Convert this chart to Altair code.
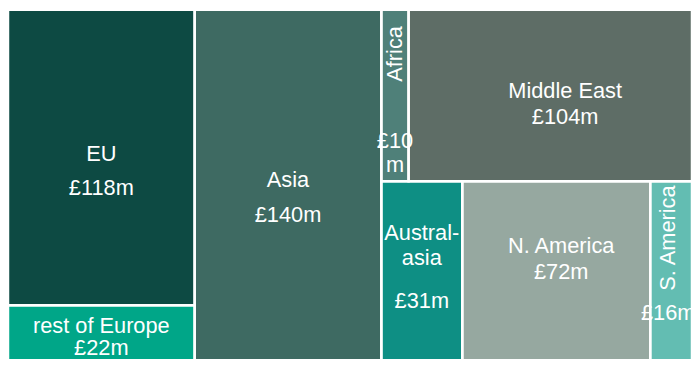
import altair as alt
import pandas as pd

# ---- data ----
regions = ["EU", "rest of Europe", "Asia", "Africa", "Middle East",
           "Australasia", "N. America", "S. America"]
values = [118, 22, 140, 10, 104, 31, 72, 16]
columns = [0, 0, 1, 2, 2, 2, 2, 2]
rows = [0, 1, 0, 0, 0, 1, 1, 1]
name_lines = [["EU"], ["rest of Europe"], ["Asia"], ["Africa"], ["Middle East"],
              ["Austral-", "asia"], ["N. America"], ["S. America"]]
value_lines = [["£118m"], ["£22m"], ["£140m"], ["£10", "m"], ["£104m"],
               ["£31m"], ["£72m"], ["£16m"]]

# ---- styling ----
colors = ["#0D4A43", "#00A688", "#3E6A62", "#4F8079", "#5E6D66",
          "#0E8F84", "#96A8A0", "#63BDB2"]
W, H = 691, 354
FONT = "Liberation Sans"
FS = 22
# per-region label placement (pixel offsets from cell centre): dx, name dys, value dys, name angle
label_style = {
    "EU": (0, [-3], [31], 0),
    "rest of Europe": (0, [-7], [16], 0),
    "Asia": (0, [-5], [30], 0),
    "Africa": (0, [-42], [46, 70], 270),
    "Middle East": (15, [-4], [22], 0),
    "Australasia": (0, [-38, -13], [31], 0),
    "N. America": (5, [-25], [1], 0),
    "S. America": (-3, [-33], [43], 270),
}

# ---- slice-and-dice treemap layout ----
df = pd.DataFrame({"region": regions, "value": values, "col": columns, "row": rows,
                   "color": colors})
total = df["value"].sum()
cells = []
x_col = 0.0
for c, sub in df.groupby("col", sort=True):
    col_sum = sub["value"].sum()
    y_row = 0.0
    for r, rsub in sub.groupby("row", sort=True):
        row_sum = rsub["value"].sum()
        h = row_sum / col_sum
        x_cell = x_col
        for _, rec in rsub.iterrows():
            w = col_sum * rec["value"] / row_sum
            cells.append({"region": rec["region"], "value": rec["value"],
                          "color": rec["color"],
                          "x0": x_cell, "x1": x_cell + w, "y0": y_row, "y1": y_row + h})
            x_cell += w
        y_row += h
    x_col += col_sum
cells = pd.DataFrame(cells)

labels = []
for _, cel in cells.iterrows():
    i = regions.index(cel["region"])
    dx, ndys, vdys, ang = label_style[cel["region"]]
    cx = (cel["x0"] + cel["x1"]) / 2 + dx * total / W
    cy = (cel["y0"] + cel["y1"]) / 2
    for line, dy in zip(name_lines[i], ndys):
        labels.append({"text": line, "x": cx, "y": cy + dy / H, "angle": ang})
    for line, dy in zip(value_lines[i], vdys):
        labels.append({"text": line, "x": cx, "y": cy + dy / H, "angle": 0})
labels = pd.DataFrame(labels)

xs = alt.Scale(domain=[0, float(total)], nice=False, zero=False)
ys = alt.Scale(domain=[0, 1], reverse=True, nice=False, zero=False)

fill = alt.Chart(cells).mark_rect(strokeWidth=0).encode(
    x=alt.X("x0:Q", scale=xs, axis=None),
    x2="x1",
    y=alt.Y("y0:Q", scale=ys, axis=None),
    y2="y1",
    color=alt.Color("color:N", scale=None),
    tooltip=["region", "value"],
)

text = alt.Chart(labels).mark_text(
    font=FONT, fontSize=FS, color="white", align="center", baseline="middle"
).encode(
    x=alt.X("x:Q", scale=xs, axis=None),
    y=alt.Y("y:Q", scale=ys, axis=None),
    text="text:N",
    angle=alt.Angle("angle:Q", scale=None),
)

outline = alt.Chart(cells).mark_rect(
    fillOpacity=0, stroke="white", strokeWidth=2.5
).encode(
    x=alt.X("x0:Q", scale=xs, axis=None),
    x2="x1",
    y=alt.Y("y0:Q", scale=ys, axis=None),
    y2="y1",
)

chart = alt.layer(fill, text, outline).properties(
    width=W, height=H, padding=0, autosize=alt.AutoSizeParams(type="none")
).configure_view(stroke=None)

chart.save("out.html", embed_options={"renderer": "svg", "actions": False})
